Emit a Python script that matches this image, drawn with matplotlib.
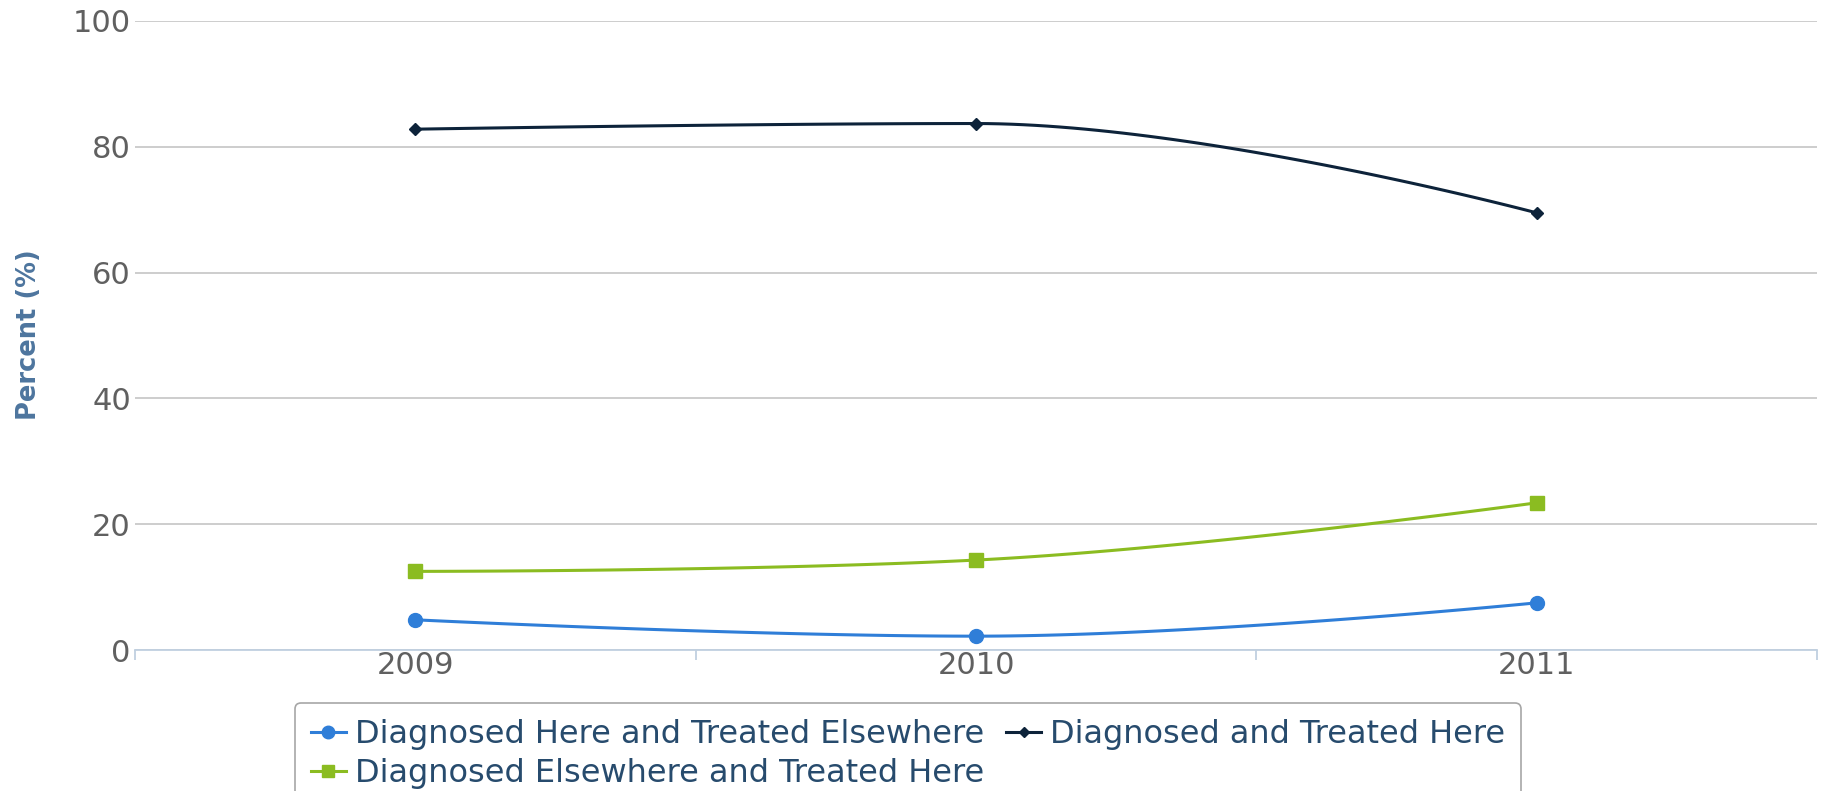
import matplotlib
matplotlib.use("Agg")
import matplotlib.pyplot as plt
from matplotlib.lines import Line2D
import numpy as np

years = ["2009", "2010", "2011"]
here_elsewhere = [4.8, 2.2, 7.5]     # Diagnosed Here and Treated Elsewhere
treated_here = [82.8, 83.7, 69.5]    # Diagnosed and Treated Here
elsewhere_here = [12.5, 14.3, 23.4]  # Diagnosed Elsewhere and Treated Here

names = ["Diagnosed Here and Treated Elsewhere",
         "Diagnosed and Treated Here",
         "Diagnosed Elsewhere and Treated Here"]
colors = ["#2f7ed8", "#0d233a", "#8bbc21"]
markers = ["o", "D", "s"]
msizes = [10, 6, 9.5]


def spline(xs, ys, smoothing=1.5, steps=60):
    # highcharts-like spline: bezier with control points from neighbours
    n = len(xs)
    lc = [None] * n
    rc = [None] * n
    d = smoothing + 1
    for i in range(1, n - 1):
        px, py = xs[i], ys[i]
        lx, ly = xs[i - 1], ys[i - 1]
        nx, ny = xs[i + 1], ys[i + 1]
        lcx = (smoothing * px + lx) / d
        lcy = (smoothing * py + ly) / d
        rcx = (smoothing * px + nx) / d
        rcy = (smoothing * py + ny) / d
        corr = (rcy - lcy) * (rcx - px) / (rcx - lcx) + py - rcy
        lcy += corr
        rcy += corr
        if lcy > ly and lcy > py:
            lcy = max(ly, py); rcy = 2 * py - lcy
        elif lcy < ly and lcy < py:
            lcy = min(ly, py); rcy = 2 * py - lcy
        if rcy > ny and rcy > py:
            rcy = max(ny, py); lcy = 2 * py - rcy
        elif rcy < ny and rcy < py:
            rcy = min(ny, py); lcy = 2 * py - rcy
        lc[i] = (lcx, lcy)
        rc[i] = (rcx, rcy)
    t = np.linspace(0, 1, steps)[:, None]
    out = []
    for i in range(1, n):
        p0 = np.array([xs[i - 1], ys[i - 1]])
        p3 = np.array([xs[i], ys[i]])
        p1 = np.array(rc[i - 1]) if rc[i - 1] is not None else p0
        p2 = np.array(lc[i]) if lc[i] is not None else p3
        seg = ((1 - t) ** 3) * p0 + 3 * ((1 - t) ** 2) * t * p1 + 3 * (1 - t) * t ** 2 * p2 + t ** 3 * p3
        out.append(seg)
    pts = np.vstack(out)
    return pts[:, 0], pts[:, 1]


fig = plt.figure(figsize=(18.26, 7.91), dpi=100)
ax = fig.add_axes([135 / 1826, 1 - 650 / 791, (1817 - 135) / 1826, (650 - 21) / 791])

x = np.arange(len(years))
series = [here_elsewhere, treated_here, elsewhere_here]
handles = []
for vals, c, m, ms, nm in zip(series, colors, markers, msizes, names):
    sx, sy = spline(list(x.astype(float)), vals)
    ax.plot(sx, sy, color=c, lw=2.2, zorder=3, solid_capstyle="round")
    ax.plot(x, vals, linestyle="none", marker=m, color=c, markersize=ms, zorder=4)
    handles.append(Line2D([], [], color=c, lw=2.2, marker=m, markersize=ms * 0.9, label=nm))

ax.set_xlim(-0.5, len(years) - 0.5)
ax.set_ylim(0, 100)
ax.set_yticks(range(0, 101, 20))
ax.set_xticks(x)
ax.set_xticklabels(years)
ax.set_xticks(np.arange(-0.5, len(years), 1), minor=True)

ax.grid(axis="y", color="#c0c0c0", lw=1.1)
ax.set_axisbelow(True)
for s in ["top", "right", "left"]:
    ax.spines[s].set_visible(False)
ax.spines["bottom"].set_color("#c0d0e0")
ax.spines["bottom"].set_linewidth(1.3)

ax.tick_params(axis="y", length=0, pad=3, labelsize=22, labelcolor="#606060")
ax.tick_params(axis="x", which="major", length=0, pad=1, labelsize=22, labelcolor="#606060")
ax.tick_params(axis="x", which="minor", length=7, width=1.3, color="#c0d0e0")

fig.text(29 / 1826, 1 - 335 / 791, "Percent (%)", rotation=90, ha="center", va="center",
         fontsize=18.5, fontweight="bold", color="#4d759e")

order = [handles[0], handles[2], handles[1]]
leg = fig.legend(handles=order, loc="upper center", bbox_to_anchor=(908 / 1826, 1 - 703 / 791),
                 ncol=2, fontsize=23, frameon=True, handlelength=1.1, handletextpad=0.27,
                 columnspacing=0.7, labelspacing=0.25, borderpad=0.5, borderaxespad=0,
                 fancybox=True)
leg.get_frame().set_edgecolor("#909090")
leg.get_frame().set_linewidth(1.2)
for t in leg.get_texts():
    t.set_color("#274b6d")

fig.savefig("out.png", dpi=100)
